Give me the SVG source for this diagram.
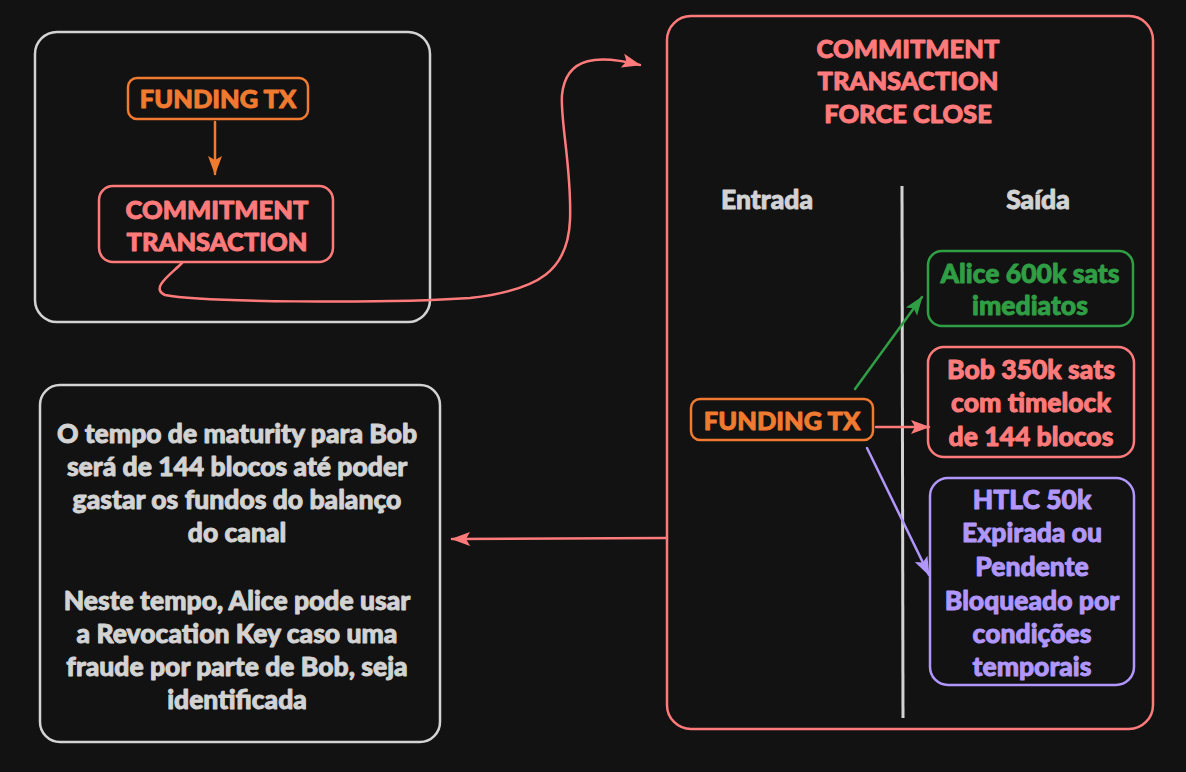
<svg xmlns="http://www.w3.org/2000/svg" width="1186" height="772" viewBox="0 0 1186 772">
<defs>
<style>
text{font-family:Lato,"Noto Sans","DejaVu Sans",sans-serif;font-weight:900;text-anchor:middle;dominant-baseline:central;font-size:26.5px;stroke-width:0.9;stroke-linejoin:round}
.box{fill:#121212;stroke-width:2.5}
.gray{stroke:#d3d3d3}.pink{stroke:#ff7b7b}.orange{stroke:#f07a30}.green{stroke:#2f9e44}.purple{stroke:#b197fc}
.tg{fill:#d3d3d3;stroke:#d3d3d3}.tp{fill:#ff7b7b;stroke:#ff7b7b}.to{fill:#f07a30;stroke:#f07a30}.tgr{fill:#2f9e44;stroke:#2f9e44}.tpu{fill:#b197fc;stroke:#b197fc}
.cap{font-size:25.5px}
.ln{fill:none;stroke-width:2.5;stroke-linecap:round}
</style>
<marker id="aP" viewBox="0 0 20 16" refX="18" refY="8" markerWidth="20" markerHeight="16" orient="auto" markerUnits="userSpaceOnUse"><path d="M0,1 L19,8 L0,15 L4,8 Z" fill="#ff7b7b"/></marker>
<marker id="aO" viewBox="0 0 20 16" refX="18" refY="8" markerWidth="20" markerHeight="16" orient="auto" markerUnits="userSpaceOnUse"><path d="M0,1 L19,8 L0,15 L4,8 Z" fill="#f07a30"/></marker>
<marker id="aG" viewBox="0 0 20 16" refX="18" refY="8" markerWidth="20" markerHeight="16" orient="auto" markerUnits="userSpaceOnUse"><path d="M0,1 L19,8 L0,15 L4,8 Z" fill="#2f9e44"/></marker>
<marker id="aU" viewBox="0 0 20 16" refX="18" refY="8" markerWidth="20" markerHeight="16" orient="auto" markerUnits="userSpaceOnUse"><path d="M0,1 L19,8 L0,15 L4,8 Z" fill="#b197fc"/></marker>
</defs>
<rect width="1186" height="772" fill="#121212"/>

<g id="group-top">
<rect class="box gray" x="35" y="32" width="395" height="290" rx="22"/>
</g>
<g id="node-funding-top">
<rect class="box orange" x="128" y="78" width="180" height="41" rx="9"/>
<text class="to cap" x="218" y="98">FUNDING TX</text>
</g>
<g id="node-commitment">
<rect class="box pink" x="99" y="186" width="234" height="76" rx="14"/>
<text class="tp cap" x="217" y="209">COMMITMENT</text>
<text class="tp cap" x="217" y="241">TRANSACTION</text>
</g>

<g id="group-force-close">
<rect class="box pink" x="667" y="16" width="486" height="713" rx="24"/>
<text class="tp cap" x="908" y="48">COMMITMENT</text>
<text class="tp cap" x="908" y="80">TRANSACTION</text>
<text class="tp cap" x="908" y="113">FORCE CLOSE</text>
<text class="tg" x="767" y="199">Entrada</text>
<text class="tg" x="1038" y="199">Saída</text>
<path d="M902,186 L903,718" stroke="#d3d3d3" stroke-width="3" fill="none"/>
</g>
<g id="node-funding-right">
<rect class="box orange" x="691" y="399" width="182" height="41" rx="9"/>
<text class="to cap" x="782" y="420">FUNDING TX</text>
</g>
<g id="node-alice">
<rect class="box green" x="928" y="251" width="205" height="75" rx="14"/>
<text class="tgr" x="1030" y="273">Alice 600k sats</text>
<text class="tgr" x="1030" y="305">imediatos</text>
</g>
<g id="node-bob">
<rect class="box pink" x="928" y="347" width="206" height="110" rx="16"/>
<text class="tp" x="1031" y="369">Bob 350k sats</text>
<text class="tp" x="1031" y="402">com timelock</text>
<text class="tp" x="1031" y="436">de 144 blocos</text>
</g>
<g id="node-htlc">
<rect class="box purple" x="930" y="478" width="204" height="207" rx="18"/>
<text class="tpu" x="1032" y="499">HTLC 50k</text>
<text class="tpu" x="1032" y="532">Expirada ou</text>
<text class="tpu" x="1032" y="566">Pendente</text>
<text class="tpu" x="1032" y="600">Bloqueado por</text>
<text class="tpu" x="1032" y="633">condições</text>
<text class="tpu" x="1032" y="666">temporais</text>
</g>

<g id="node-note">
<rect class="box gray" x="40" y="385" width="400" height="357" rx="20"/>
<text class="tg" x="237" y="433">O tempo de maturity para Bob</text>
<text class="tg" x="237" y="466">será de 144 blocos até poder</text>
<text class="tg" x="237" y="499">gastar os fundos do balanço</text>
<text class="tg" x="237" y="532">do canal</text>
<text class="tg" x="237" y="600">Neste tempo, Alice pode usar</text>
<text class="tg" x="237" y="633">a Revocation Key caso uma</text>
<text class="tg" x="237" y="666">fraude por parte de Bob, seja</text>
<text class="tg" x="237" y="699">identificada</text>
</g>

<g id="connectors">
<path class="ln" d="M215,122 L215,174" stroke="#f07a30" marker-end="url(#aO)"/>
<path class="ln" d="M182,263 C170,275 150,288 165,295 C200,302 380,304 470,298 C540,290 568,270 570,220 C572,170 560,120 562,95 C566,55 600,55 640,65" stroke="#ff7b7b" marker-end="url(#aP)"/>
<path class="ln" d="M855,389 L922,297" stroke="#2f9e44" marker-end="url(#aG)"/>
<path class="ln" d="M876,427 L929,427" stroke="#ff7b7b" marker-end="url(#aP)"/>
<path class="ln" d="M867,448 L929,575" stroke="#b197fc" marker-end="url(#aU)"/>
<path class="ln" d="M667,538 L452,539" stroke="#ff7b7b" marker-end="url(#aP)"/>
</g>
</svg>
